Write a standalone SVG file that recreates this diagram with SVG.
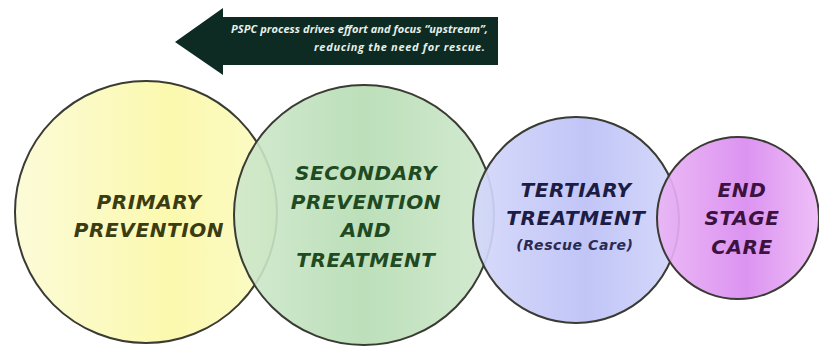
<svg xmlns="http://www.w3.org/2000/svg" width="819" height="349" viewBox="0 0 819 349">
<defs>
<linearGradient id="gY" x1="0" y1="0" x2="1" y2="0">
<stop offset="0" stop-color="#fbfbd8"/><stop offset="0.6" stop-color="#fbf9ae"/><stop offset="1" stop-color="#fbfbc8"/>
</linearGradient>
<linearGradient id="gG" x1="0" y1="0" x2="1" y2="0">
<stop offset="0" stop-color="#cfe8cc"/><stop offset="0.5" stop-color="#b5dcb2"/><stop offset="1" stop-color="#cfe8cc"/>
</linearGradient>
<linearGradient id="gB" x1="0" y1="0" x2="1" y2="0">
<stop offset="0" stop-color="#d4d8fa"/><stop offset="0.55" stop-color="#bcc0f6"/><stop offset="1" stop-color="#d2d6fa"/>
</linearGradient>
<linearGradient id="gP" x1="0" y1="0" x2="1" y2="0">
<stop offset="0" stop-color="#eab4f4"/><stop offset="0.55" stop-color="#d98af0"/><stop offset="1" stop-color="#edbaf6"/>
</linearGradient>
</defs>
<style>
.c{stroke:#3a3b33;stroke-width:2;}
.t{font-family:"DejaVu Sans",Verdana,sans-serif;font-weight:bold;font-style:italic;text-anchor:middle;}
.big{font-size:20px;letter-spacing:0.6px;}
.hdr{font-family:"Open Sans","DejaVu Sans",sans-serif;font-weight:bold;font-style:italic;font-size:11px;fill:#e8f0ea;}
</style>
<rect width="819" height="349" fill="#ffffff"/>
<g id="arrow">
<polygon points="175,42 223,8 223,17 498,17 498,65 223,65 223,75" fill="#0d2b23"/>
<text class="hdr" x="231" y="33" textLength="257" lengthAdjust="spacing">PSPC process drives effort and focus “upstream”,</text>
<text class="hdr" x="314" y="51" textLength="171" lengthAdjust="spacing">reducing the need for rescue.</text>
</g>
<g id="primary">
<circle class="c" cx="146" cy="212" r="131" fill="url(#gY)"/>
<text class="t big" x="149" y="209" fill="#3b3c12">PRIMARY</text>
<text class="t big" x="149" y="237" fill="#3b3c12">PREVENTION</text>
</g>
<g id="secondary">
<circle class="c" cx="364" cy="215" r="130" fill="url(#gG)" fill-opacity="0.9"/>
<text class="t big" x="366" y="180" fill="#1f4a22">SECONDARY</text>
<text class="t big" x="366" y="209" fill="#1f4a22">PREVENTION</text>
<text class="t big" x="366" y="237" fill="#1f4a22">AND</text>
<text class="t big" x="366" y="267" fill="#1f4a22">TREATMENT</text>
</g>
<g id="tertiary">
<circle class="c" cx="576" cy="220" r="103" fill="url(#gB)" fill-opacity="0.92"/>
<text class="t big" x="576" y="197" fill="#1c1c44">TERTIARY</text>
<text class="t big" x="576" y="225" fill="#1c1c44">TREATMENT</text>
<text class="t" x="575" y="250" font-size="14" letter-spacing="0.6" fill="#2a2a55">(Rescue Care)</text>
</g>
<g id="endstage">
<circle class="c" cx="738" cy="218" r="81" fill="url(#gP)" fill-opacity="0.92"/>
<text class="t big" x="742" y="197" fill="#3c123f">END</text>
<text class="t big" x="742" y="225" fill="#3c123f">STAGE</text>
<text class="t big" x="742" y="254" fill="#3c123f">CARE</text>
</g>
</svg>
